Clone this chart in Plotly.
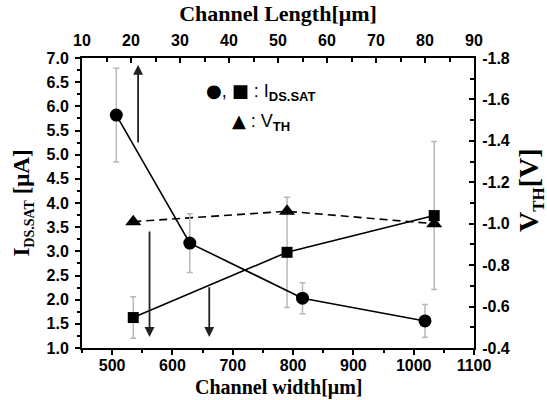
import plotly.graph_objects as go

# I_DS.SAT versus channel length (top axis, circles)
length_um = [17, 32, 55, 80]
ids_length = [5.82, 3.17, 2.03, 1.56]
ids_length_err = [0.97, 0.61, 0.32, 0.34]

# I_DS.SAT versus channel width (bottom axis, squares)
width_um = [535, 790, 1034]
ids_width = [1.63, 2.98, 3.74]
ids_width_err = [0.43, 1.14, 1.53]

# Threshold voltage versus channel width (right axis, triangles)
vth_width_um = [535, 790, 1034]
vth = [-1.01, -1.06, -1.00]

# Tick labels
left_ticks = [1.0, 1.5, 2.0, 2.5, 3.0, 3.5, 4.0, 4.5, 5.0, 5.5, 6.0, 6.5, 7.0]
right_ticks = [-1.8, -1.6, -1.4, -1.2, -1.0, -0.8, -0.6, -0.4]
bottom_ticks = [500, 600, 700, 800, 900, 1000, 1100]
top_ticks = [10, 20, 30, 40, 50, 60, 70, 80, 90]

TICK_FONT = dict(family="Liberation Sans", size=16, color="black", weight="bold")
X_TITLE_FONT = dict(family="Liberation Serif", size=22, color="black", weight="bold")
BOTTOM_TITLE_FONT = dict(family="Liberation Serif", size=20, color="black", weight="bold")
LEFT_TITLE_FONT = dict(family="Liberation Serif", size=23, color="black", weight="bold")
RIGHT_TITLE_FONT = dict(family="Liberation Serif", size=28, color="black", weight="bold")
ERR_COLOR = "#b8b8b8"

# Plot-area box in pixels
L, R, T, B, W, H = 82, 474, 58, 348, 547, 400

fig = go.Figure()

fig.add_trace(go.Scatter(
    x=length_um, y=ids_length, xaxis="x2", yaxis="y",
    mode="lines+markers",
    line=dict(color="black", width=1.6),
    marker=dict(symbol="circle", size=13, color="black"),
    error_y=dict(type="data", array=ids_length_err, color=ERR_COLOR, thickness=1.5, width=3),
    showlegend=False,
))

fig.add_trace(go.Scatter(
    x=width_um, y=ids_width, xaxis="x", yaxis="y",
    mode="lines+markers",
    line=dict(color="black", width=1.6),
    marker=dict(symbol="square", size=11, color="black"),
    error_y=dict(type="data", array=ids_width_err, color=ERR_COLOR, thickness=1.5, width=3),
    showlegend=False,
))

fig.add_trace(go.Scatter(
    x=vth_width_um, y=vth, xaxis="x", yaxis="y2",
    mode="lines+markers",
    line=dict(color="black", width=1.6, dash="8px,5px"),
    marker=dict(symbol="triangle-up", size=14, color="black"),
    showlegend=False,
))

axis_common = dict(showline=True, linewidth=2, linecolor="black", showgrid=False,
                   zeroline=False, tickcolor="black", tickwidth=1.5, tickfont=TICK_FONT,
                   automargin=False)

fig.update_layout(
    width=W, height=H,
    margin=dict(l=L, r=W - R, t=T, b=H - B),
    paper_bgcolor="white", plot_bgcolor="white",
    xaxis=dict(
        **axis_common, range=[450, 1100], side="bottom", anchor="y",
        tickvals=bottom_ticks, ticktext=[str(v) for v in bottom_ticks],
        ticks="outside", ticklen=5, ticklabelstandoff=-3,
        minor=dict(ticks="outside", ticklen=3, dtick=50, tick0=450, tickcolor="black", tickwidth=1.5),
    ),
    xaxis2=dict(
        **axis_common, range=[10, 90], side="top", overlaying="x", anchor="y",
        tickvals=top_ticks, ticktext=[str(v) for v in top_ticks],
        ticks="inside", ticklen=5, ticklabelstandoff=4,
        minor=dict(ticks="inside", ticklen=4, dtick=5, tick0=10, tickcolor="black", tickwidth=1.5),
        title=dict(text="Channel Length[μm]", font=X_TITLE_FONT, standoff=4),
    ),
    yaxis=dict(
        **axis_common, range=[1.0, 7.0], side="left", anchor="x",
        tickvals=left_ticks, ticktext=[f"{v:.1f}" for v in left_ticks],
        ticks="outside", ticklen=5, ticklabelstandoff=3,
        minor=dict(ticks="outside", ticklen=3, dtick=0.25, tick0=1.0, tickcolor="black", tickwidth=1.5),
        title=dict(text="I<sub><span style='font-size:14px'>DS.SAT</span></sub> [μA]",
                   font=LEFT_TITLE_FONT, standoff=10),
    ),
    yaxis2=dict(
        **axis_common, range=[-0.4, -1.8], side="right", overlaying="y", anchor="x",
        tickvals=right_ticks, ticktext=[f"{v:.1f}" for v in right_ticks],
        ticks="inside", ticklen=5, ticklabelstandoff=3,
        minor=dict(ticks="inside", ticklen=4, dtick=0.1, tick0=-1.8, tickcolor="black", tickwidth=1.5),
    ),
)

# Bottom-axis title, kept clear of the tick labels
fig.add_annotation(xref="paper", yref="paper", x=0.5, y=(B - H) / (B - T),
                   xanchor="center", yanchor="bottom", showarrow=False, borderpad=0,
                   text="Channel width[μm]", font=BOTTOM_TITLE_FONT)

# Right-axis title, set slightly above the axis centre
fig.add_annotation(xref="paper", yref="paper", x=(530 - L) / (R - L), y=(B - 190) / (B - T),
                   xanchor="center", yanchor="middle", showarrow=False, textangle=-90,
                   text="V<sub><span style='font-size:17px'>TH</span></sub>[V]",
                   font=RIGHT_TITLE_FONT)

# Arrows pointing each data set to the axis it is read against
arrow_style = dict(showarrow=True, arrowhead=2, arrowsize=1.1, arrowwidth=1.8,
                   arrowcolor="#222222", axref="x", ayref="y", xref="x", yref="y", text="")
fig.add_annotation(x=543, y=6.86, ax=543, ay=5.22, **arrow_style)
fig.add_annotation(x=562, y=1.23, ax=562, ay=3.44, **arrow_style)
fig.add_annotation(x=661, y=1.23, ax=661, ay=2.29, **arrow_style)

# Symbol key
key_font = dict(family="Liberation Sans", size=18, color="black")
sym = "<span style='font-family:DejaVu Sans'>{}</span>"
fig.add_annotation(xref="paper", yref="paper", x=(204 - L) / (R - L), y=(B - 92) / (B - T),
                   xanchor="left", yanchor="middle", showarrow=False,
                   text=sym.format("●") + ", " + sym.format("■") + " : I<sub><b><span style='font-size:13px'>DS.SAT</span></b></sub>",
                   font=key_font)
fig.add_annotation(xref="paper", yref="paper", x=(230 - L) / (R - L), y=(B - 122) / (B - T),
                   xanchor="left", yanchor="middle", showarrow=False,
                   text=sym.format("▲") + " : V<sub><b><span style='font-size:13px'>TH</span></b></sub>",
                   font=key_font)

fig.write_html("out.html")
